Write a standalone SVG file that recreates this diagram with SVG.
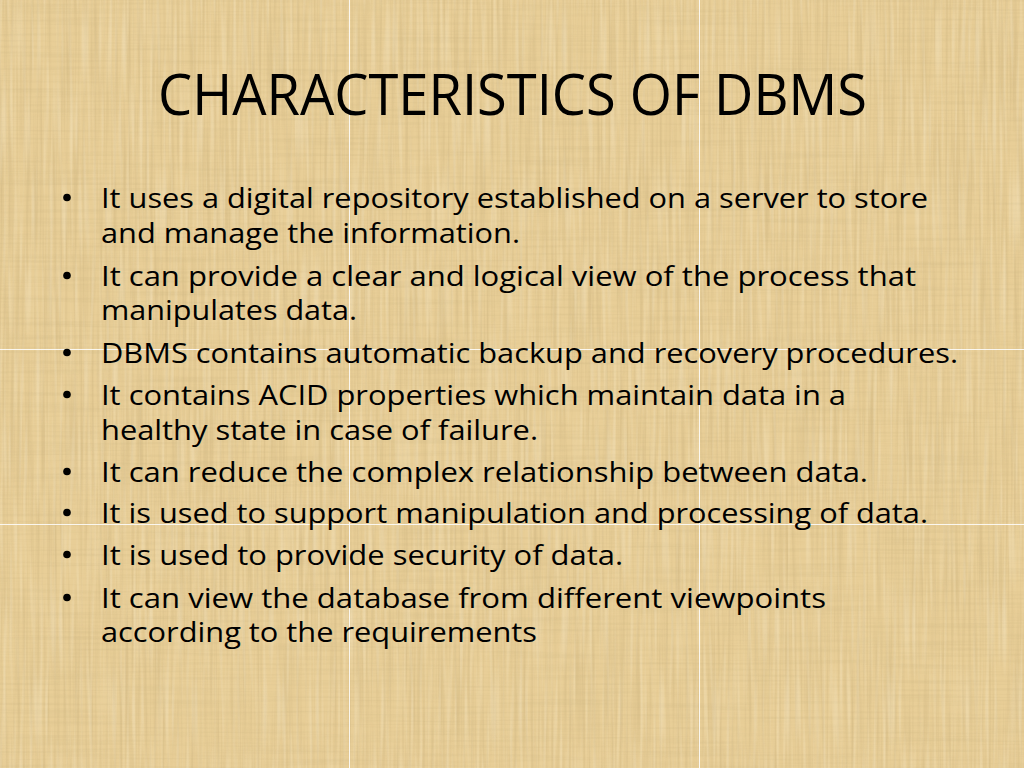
<svg xmlns="http://www.w3.org/2000/svg" width="1024" height="768" viewBox="0 0 1024 768">
<defs>
<filter id="vstreak" x="0" y="0" width="100%" height="100%">
<feTurbulence type="fractalNoise" baseFrequency="0.35 0.008" numOctaves="2" seed="3"/>
<feColorMatrix type="matrix" values="0 0 0 0 0.58  0 0 0 0 0.43  0 0 0 0 0.2  1.5 0 0 0 -0.6"/>
</filter>
<filter id="hstreak" x="0" y="0" width="100%" height="100%">
<feTurbulence type="fractalNoise" baseFrequency="0.008 0.35" numOctaves="2" seed="7"/>
<feColorMatrix type="matrix" values="0 0 0 0 0.6  0 0 0 0 0.46  0 0 0 0 0.22  1.4 0 0 0 -0.6"/>
</filter>
<filter id="light" x="0" y="0" width="100%" height="100%">
<feTurbulence type="fractalNoise" baseFrequency="0.3 0.012" numOctaves="1" seed="11"/>
<feColorMatrix type="matrix" values="0 0 0 0 1  0 0 0 0 0.95  0 0 0 0 0.8  1.4 0 0 0 -0.65"/>
</filter>
</defs>
<style>
.title{font-family:"Open Sans","Noto Sans","Liberation Sans",sans-serif;font-size:56px;fill:#000}
.body{font-family:"Open Sans","Noto Sans","Liberation Sans",sans-serif;font-size:26.5px;fill:#000}
.seam{stroke:#ffffff;stroke-width:1;opacity:0.85}
.dot{fill:#000}
</style>
<g id="background">
<rect x="0" y="0" width="1024" height="768" fill="#E8CE97"/>
<rect x="0" y="0" width="1024" height="768" filter="url(#vstreak)" opacity="0.6"/>
<rect x="0" y="0" width="1024" height="768" filter="url(#hstreak)" opacity="0.45"/>
<rect x="0" y="0" width="1024" height="768" filter="url(#light)" opacity="0.5"/>
<line class="seam" x1="349.5" y1="0" x2="349.5" y2="768"/>
<line class="seam" x1="699.5" y1="0" x2="699.5" y2="768"/>
<line class="seam" x1="0" y1="349.5" x2="1024" y2="349.5"/>
<line class="seam" x1="0" y1="524.5" x2="1024" y2="524.5"/>
</g>
<g id="title">
<text class="title" x="158" y="115" textLength="709" lengthAdjust="spacingAndGlyphs">CHARACTERISTICS OF DBMS</text>
</g>
<g id="bullets">
<circle class="dot" cx="67" cy="197.5" r="3.8"/>
<circle class="dot" cx="67" cy="275.5" r="3.8"/>
<circle class="dot" cx="67" cy="352.5" r="3.8"/>
<circle class="dot" cx="67" cy="394.5" r="3.8"/>
<circle class="dot" cx="67" cy="471.5" r="3.8"/>
<circle class="dot" cx="67" cy="512.5" r="3.8"/>
<circle class="dot" cx="67" cy="554.5" r="3.8"/>
<circle class="dot" cx="67" cy="597.5" r="3.8"/>
</g>
<g id="text">
<text class="body" x="101" y="208" textLength="827" lengthAdjust="spacingAndGlyphs">It uses a digital repository established on a server to store</text>
<text class="body" x="101" y="243" textLength="419" lengthAdjust="spacingAndGlyphs">and manage the information.</text>
<text class="body" x="101" y="286" textLength="815" lengthAdjust="spacingAndGlyphs">It can provide a clear and logical view of the process that</text>
<text class="body" x="101" y="320" textLength="256" lengthAdjust="spacingAndGlyphs">manipulates data.</text>
<text class="body" x="101" y="363" textLength="857" lengthAdjust="spacingAndGlyphs">DBMS contains automatic backup and recovery procedures.</text>
<text class="body" x="101" y="405" textLength="745" lengthAdjust="spacingAndGlyphs">It contains ACID properties which maintain data in a</text>
<text class="body" x="101" y="440" textLength="437" lengthAdjust="spacingAndGlyphs">healthy state in case of failure.</text>
<text class="body" x="101" y="482" textLength="767" lengthAdjust="spacingAndGlyphs">It can reduce the complex relationship between data.</text>
<text class="body" x="101" y="523" textLength="827" lengthAdjust="spacingAndGlyphs">It is used to support manipulation and processing of data.</text>
<text class="body" x="101" y="565" textLength="522" lengthAdjust="spacingAndGlyphs">It is used to provide security of data.</text>
<text class="body" x="101" y="608" textLength="725" lengthAdjust="spacingAndGlyphs">It can view the database from different viewpoints</text>
<text class="body" x="101" y="642" textLength="436" lengthAdjust="spacingAndGlyphs">according to the requirements</text>
</g>
</svg>
